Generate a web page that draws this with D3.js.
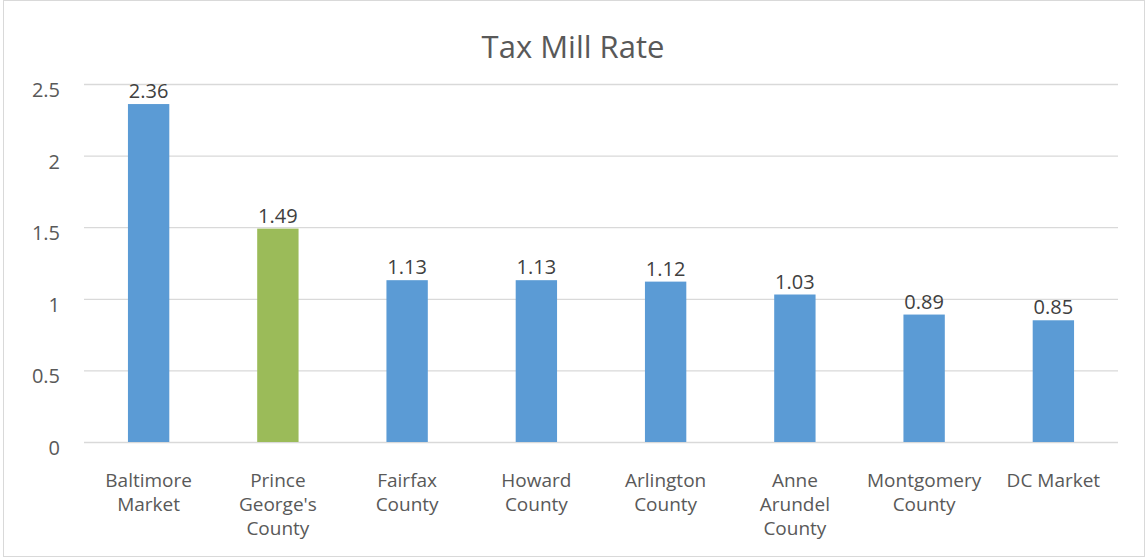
<!DOCTYPE html>
<html lang="en">
  <head>
    <meta charset="utf-8">
    <title>Tax Mill Rate</title>
    <script src="https://d3js.org/d3.v7.min.js"></script>
    <style type="text/css">
      body { margin: 0; background: #fff; }
      text { font-family: "Open Sans", "Noto Sans", sans-serif; }
    </style>
  </head>
  <body>
  <svg width="1147" height="559" id="chart"></svg>
  <script>
    var categories = ["Baltimore Market", "Prince George's County", "Fairfax County", "Howard County",
                      "Arlington County", "Anne Arundel County", "Montgomery County", "DC Market"];
    var labelLines = [["Baltimore", "Market"], ["Prince", "George's", "County"], ["Fairfax", "County"],
                      ["Howard", "County"], ["Arlington", "County"], ["Anne", "Arundel", "County"],
                      ["Montgomery", "County"], ["DC Market"]];
    var rates = [2.36, 1.49, 1.13, 1.13, 1.12, 1.03, 0.89, 0.85];
    var yTicks = [0, 0.5, 1, 1.5, 2, 2.5];
    var highlight = "Prince George's County";

    var svg = d3.select("#chart");
    var margin = {top: 84, right: 29, bottom: 117, left: 84};
    var width = svg.attr("width") - margin.left - margin.right;
    var height = svg.attr("height") - margin.top - margin.bottom;

    // outer frame
    svg.append("rect").attr("x", 3.5).attr("y", 0.5).attr("width", 1141).attr("height", 556)
      .attr("fill", "#fff").attr("stroke", "#d9d9d9");

    svg.append("text").attr("x", 573).attr("y", 58).attr("text-anchor", "middle")
      .attr("font-size", 31).attr("fill", "#595959").text("Tax Mill Rate");

    var g = svg.append("g").attr("transform", `translate(${margin.left}, ${margin.top})`);

    var xScale = d3.scaleBand().domain(categories).range([0, width]).paddingInner(0.68).paddingOuter(0.34);
    var yScale = d3.scaleLinear().domain([0, 2.5]).range([height, 0]);

    var yAxis = d3.axisLeft(yScale).tickValues(yTicks).tickSize(-width).tickPadding(24)
      .tickFormat(function(d) { return d; });
    var ya = g.append("g").call(yAxis);
    ya.select(".domain").remove();
    ya.selectAll(".tick line").attr("stroke", "#d9d9d9").attr("stroke-width", 1.3);
    ya.selectAll(".tick text").attr("font-size", 20).attr("fill", "#595959").attr("dy", "0.62em")
      .attr("font-family", "\"Open Sans\", sans-serif");

    var bars = g.selectAll(".bar").data(rates).enter().append("rect").attr("class", "bar")
      .attr("x", function(d, i) { return xScale(categories[i]); })
      .attr("y", function(d) { return yScale(d); })
      .attr("width", xScale.bandwidth())
      .attr("height", function(d) { return height - yScale(d); })
      .attr("fill", function(d, i) { return categories[i] == highlight ? "#9bbb59" : "#5b9bd5"; });

    g.selectAll(".val").data(rates).enter().append("text").attr("class", "val")
      .attr("x", function(d, i) { return xScale(categories[i]) + xScale.bandwidth() / 2; })
      .attr("y", function(d) { return yScale(d) - 6; })
      .attr("text-anchor", "middle").attr("font-size", 20).attr("fill", "#404040")
      .text(function(d) { return d.toFixed(2); });

    // category labels, one text per line
    categories.forEach(function(c, i) {
      var cx = xScale(c) + xScale.bandwidth() / 2;
      g.selectAll(null).data(labelLines[i]).enter().append("text")
        .attr("x", cx)
        .attr("y", function(line, j) { return height + 45 + j * 24; })
        .attr("text-anchor", "middle").attr("font-size", 19).attr("fill", "#595959")
        .text(function(line) { return line; });
    });
  </script>
  </body>
</html>
